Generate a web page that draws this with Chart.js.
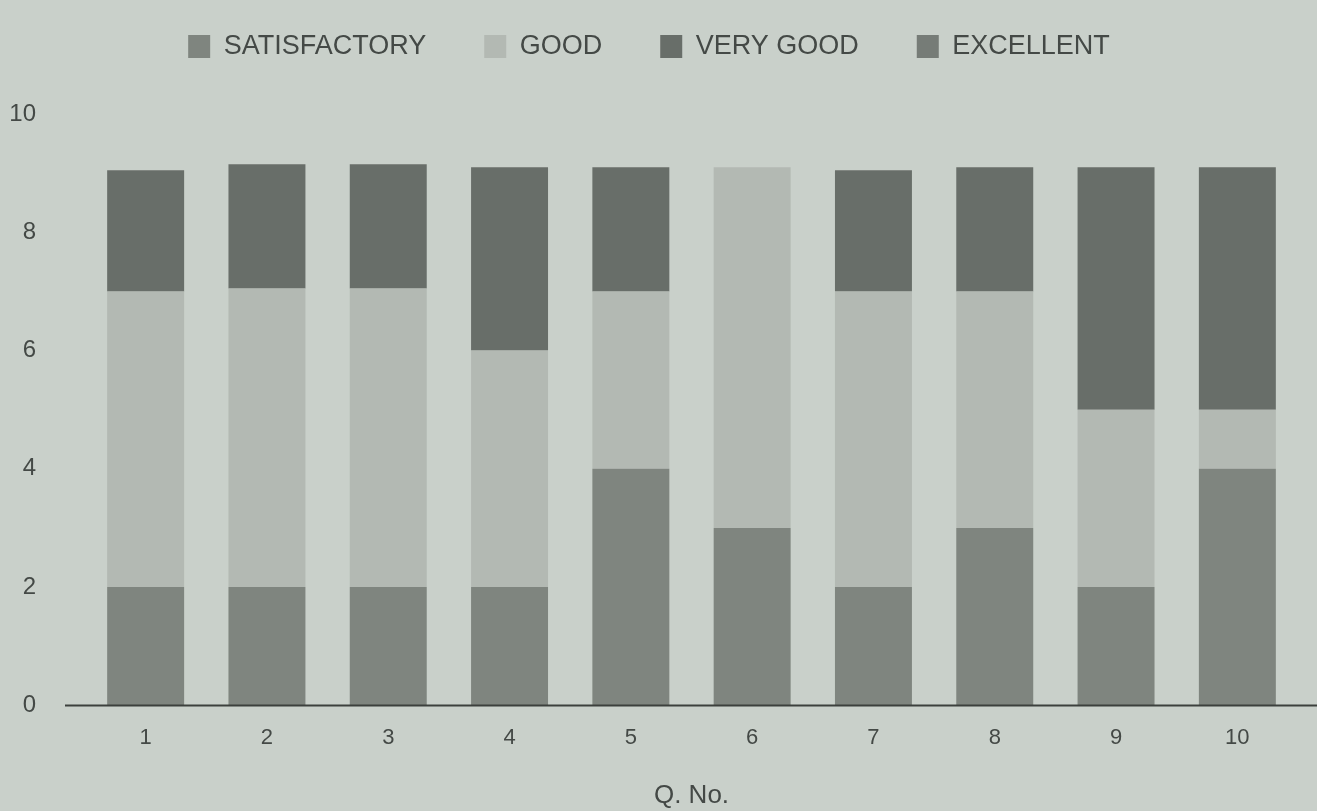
<!DOCTYPE html>
<html>
<head>
<meta charset="utf-8">
<script src="https://cdn.jsdelivr.net/npm/chart.js@4.4.1/dist/chart.umd.min.js"></script>
<style>
  html, body { margin: 0; padding: 0; background: #c9d0ca; }
  #wrap { width: 1317px; height: 811px; position: relative; }
</style>
</head>
<body>
<div id="wrap"><canvas id="c" width="1317" height="811"></canvas></div>
<script>
const categories = ['1', '2', '3', '4', '5', '6', '7', '8', '9', '10'];
const satisfactory = [2, 2, 2, 2, 4, 3, 2, 3, 2, 4];
const good = [5, 5.05, 5.05, 4, 3, 6.1, 5, 4, 3, 1];
const veryGood = [2.05, 2.1, 2.1, 3.1, 2.1, 0, 2.05, 2.1, 4.1, 4.1];
const excellent = [0, 0, 0, 0, 0, 0, 0, 0, 0, 0];
const seriesNames = ['SATISFACTORY', 'GOOD', 'VERY GOOD', 'EXCELLENT'];
const yTicks = [0, 2, 4, 6, 8, 10];

const axisLine = {
  id: 'axisLine',
  afterDatasetsDraw(chart) {
    const ctx = chart.ctx;
    const y = chart.scales.y.getPixelForValue(0);
    ctx.save();
    ctx.strokeStyle = '#3c403d';
    ctx.lineWidth = 2;
    ctx.beginPath();
    ctx.moveTo(65, y);
    ctx.lineTo(chart.width, y);
    ctx.stroke();
    ctx.restore();
  }
};

const legendGap = {
  id: 'legendGap',
  afterInit(chart) {
    const lg = chart.legend;
    if (!lg) return;
    const orig = lg.fit.bind(lg);
    lg.fit = function () { orig(); this.height += 44; };
  }
};

const font = "'Liberation Sans', Arial, sans-serif";
const textColor = '#444946';

new Chart(document.getElementById('c'), {
  type: 'bar',
  data: {
    labels: categories,
    datasets: [
      { label: seriesNames[0], data: satisfactory, backgroundColor: '#7f857f' },
      { label: seriesNames[1], data: good, backgroundColor: '#b3b9b3' },
      { label: seriesNames[2], data: veryGood, backgroundColor: '#686e69' },
      { label: seriesNames[3], data: excellent, backgroundColor: '#767c77' }
    ]
  },
  options: {
    responsive: false,
    animation: false,
    layout: { padding: { top: -25, right: 19, bottom: 0, left: 0 } },
    datasets: { bar: { barPercentage: 0.9, categoryPercentage: 0.705, borderWidth: 0 } },
    plugins: {
      legend: {
        position: 'top',
        labels: {
          color: textColor,
          font: { family: font, size: 27 },
          boxWidth: 22,
          boxHeight: 23,
          padding: 58
        }
      },
      tooltip: { enabled: false }
    },
    scales: {
      x: {
        stacked: true,
        grid: { display: false, drawTicks: false },
        border: { display: false },
        ticks: { color: textColor, font: { family: font, size: 22 }, padding: 19 },
        title: { display: true, text: 'Q. No.', color: textColor, font: { family: font, size: 26 }, padding: { top: 10, bottom: 0 } }
      },
      y: {
        stacked: true,
        min: 0,
        max: 10,
        afterBuildTicks(scale) { scale.ticks = yTicks.map(v => ({ value: v })); },
        afterFit(scale) { scale.width = 85; },
        grid: { display: false, drawTicks: false },
        border: { display: false },
        ticks: { color: textColor, font: { family: font, size: 24 }, padding: 49 }
      }
    }
  },
  plugins: [axisLine, legendGap]
});
</script>
</body>
</html>
